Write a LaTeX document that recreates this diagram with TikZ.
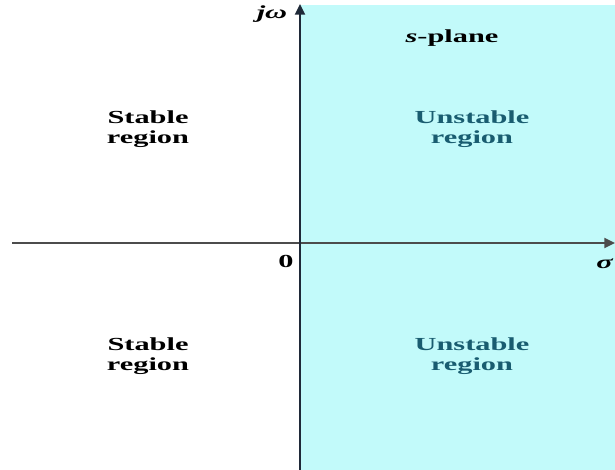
\documentclass[tikz,border=0pt]{standalone}
\usepackage{fontspec}
\setmainfont{Liberation Serif}
\usetikzlibrary{arrows.meta}
\definecolor{unstfill}{rgb}{0.76,0.98,0.98}
\definecolor{unsttext}{rgb}{0.10,0.36,0.44}
\definecolor{axisdark}{rgb}{0.12,0.16,0.22}

\begin{document}
\begin{tikzpicture}[
  x=0.75pt, y=-0.75pt,
  >={Triangle[length=2.8mm, width=2.6mm]},
  every node/.style={font=\fontsize{13.8}{15.5}\selectfont\bfseries, xscale=1.65},
  stabletxt/.style={align=center, text=black},
  unstabletxt/.style={align=center, text=unsttext},
  axis/.style={->, line width=1.8pt, draw=axisdark},
]
\useasboundingbox (0,0) rectangle (615,470);

% ---- right half plane (unstable) ----
\fill[unstfill] (300,5) rectangle (615,470);

% ---- axes ----
\coordinate (xl) at (12,243);
\coordinate (xr) at (615,243);
\coordinate (yb) at (300,470);
\coordinate (yt) at (300,4);
\draw[axis, draw=black!70] (xl) -- (xr);
\draw[axis] (yb) -- (yt);

% ---- axis labels ----
\node (jw) at (272,14) {\textit{jω}};
\node (splane) at (452,38) {\textit{s}-plane};
\node (zero) at (286,261) {0};
\node (sigma) at (605,264) {\textit{σ}};

% ---- regions ----
\node[stabletxt] (stabU) at (148,129) {Stable\\region};
\node[stabletxt] (stabL) at (148,356) {Stable\\region};
\node[unstabletxt] (unstU) at (472,129) {Unstable\\region};
\node[unstabletxt] (unstL) at (472,356) {Unstable\\region};

\end{tikzpicture}
\end{document}
